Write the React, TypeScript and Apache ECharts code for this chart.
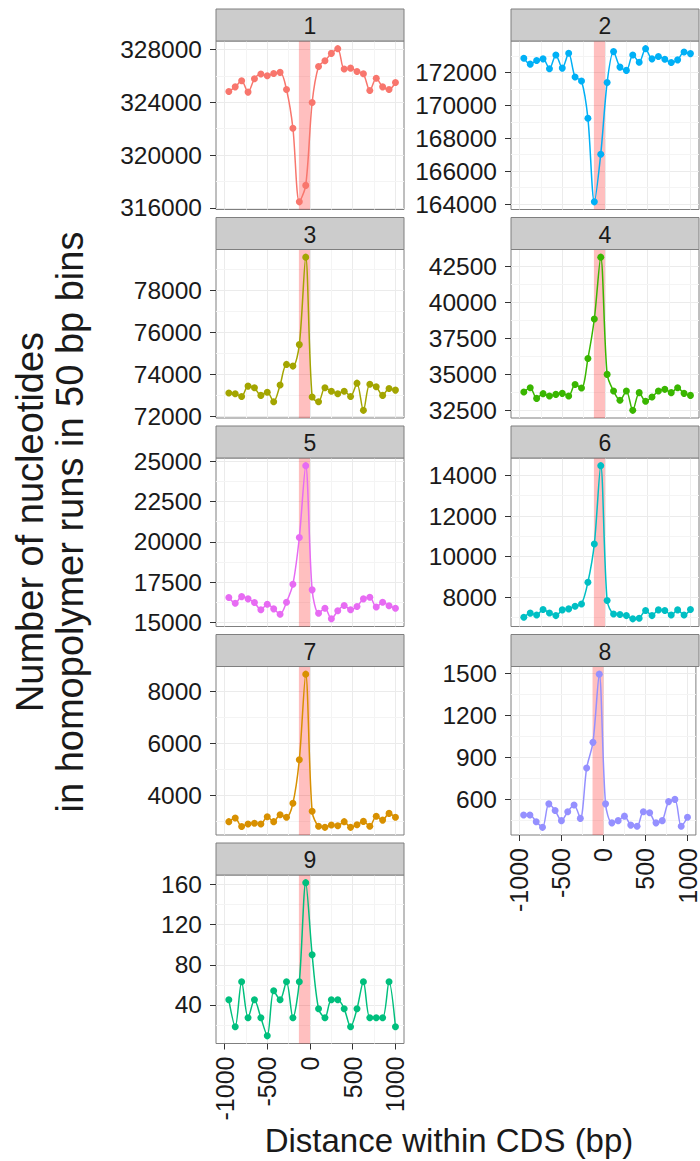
import { useEffect, useRef } from "react";
import * as echarts from "echarts";

// Bin positions (bp) relative to the CDS boundary
const POSITIONS = [
  -950, -875, -800, -725, -650, -575, -500, -425, -350, -275, -200, -125, -50,
  25, 100, 175, 250, 325, 400, 475, 550, 625, 700, 775, 850, 925, 1000,
];

const PANEL_NAMES = ["1", "2", "3", "4", "5", "6", "7", "8", "9"];

const RUN_1 = [
  324830, 325180, 325640, 324780, 325790, 326150, 326020, 326200, 326280, 324980,
  322040, 316450, 317700, 323990, 326730, 327160, 327720, 328080, 326530, 326600,
  326350, 326170, 324900, 325840, 325180, 324980, 325510,
];
const RUN_2 = [
  172860, 172500, 172720, 172820, 172220, 173060, 172260, 173160, 171720, 171480,
  169210, 164140, 167030, 171380, 173260, 172320, 172120, 173060, 172620, 173440,
  172820, 172960, 172800, 172600, 172760, 173240, 173140,
];
const RUN_3 = [
  73120, 73090, 72960, 73450, 73370, 73010, 73160, 72710, 73500, 74480, 74400,
  75420, 79570, 72930, 72710, 73370, 73210, 73090, 73210, 72960, 73590, 72300,
  73540, 73420, 73010, 73340, 73260,
];
const RUN_4 = [
  33770, 34070, 33330, 33660, 33500, 33610, 33680, 33500, 34300, 34050, 36100,
  38850, 43150, 35000, 33840, 33200, 33840, 32500, 33730, 33130, 33430, 33840,
  33960, 33730, 34070, 33680, 33540,
];
const RUN_5 = [
  16540, 16190, 16600, 16460, 16230, 15780, 16130, 15840, 15510, 16250, 17370,
  20270, 24730, 17020, 15570, 15880, 15220, 15720, 16050, 15780, 15990, 16460,
  16560, 15950, 16250, 16030, 15880,
];
const RUN_6 = [
  7020, 7220, 7130, 7400, 7230, 7100, 7380, 7430, 7560, 7670, 8740, 10620, 14480,
  7840, 7180, 7150, 7100, 6940, 6970, 7350, 7100, 7380, 7350, 7130, 7380, 7130,
  7400,
];
const RUN_7 = [
  2970, 3110, 2780, 2880, 2910, 2880, 3160, 2970, 3240, 3140, 3680, 5370, 8680,
  3370, 2790, 2750, 2840, 2810, 2970, 2750, 2850, 2980, 2790, 3180, 3030, 3290,
  3140,
];
const RUN_8 = [
  488, 488, 440, 400, 568, 520, 448, 512, 560, 464, 824, 1008, 1496, 568, 432,
  448, 480, 416, 408, 512, 504, 432, 448, 584, 600, 408, 472,
];
const RUN_9 = [
  45, 18, 63, 27, 45, 27, 9, 54, 45, 63, 27, 63, 162, 90, 36, 27, 45, 45, 36, 18,
  36, 63, 27, 27, 27, 63, 18,
];

const Y_TICKS_1 = [316000, 320000, 324000, 328000];
const Y_TICKS_2 = [164000, 166000, 168000, 170000, 172000];
const Y_TICKS_3 = [72000, 74000, 76000, 78000];
const Y_TICKS_4 = [32500, 35000, 37500, 40000, 42500];
const Y_TICKS_5 = [15000, 17500, 20000, 22500, 25000];
const Y_TICKS_6 = [8000, 10000, 12000, 14000];
const Y_TICKS_7 = [4000, 6000, 8000];
const Y_TICKS_8 = [600, 900, 1200, 1500];
const Y_TICKS_9 = [40, 80, 120, 160];

const X_TICKS = [-1000, -500, 0, 500, 1000];
const X_LIMITS = [-1100, 1100];
const HIGHLIGHT = [-130, 0];

const COLORS = [
  "#F8766D", "#00B0F6", "#A3A500", "#39B600", "#E76BF3",
  "#00BFC4", "#D89000", "#9590FF", "#00BF7D",
];

const RUNS = [RUN_1, RUN_2, RUN_3, RUN_4, RUN_5, RUN_6, RUN_7, RUN_8, RUN_9];
const Y_TICKS = [
  Y_TICKS_1, Y_TICKS_2, Y_TICKS_3, Y_TICKS_4, Y_TICKS_5,
  Y_TICKS_6, Y_TICKS_7, Y_TICKS_8, Y_TICKS_9,
];

// facet layout (pixels)
const COL_LEFT = [216, 511];
const PANEL_W = 188;
const ROW_TOP = [9, 217.5, 426, 634.5, 843];
const STRIP_H = 32;
const PLOT_H = 168.5;

const FONT = '"Liberation Sans", Arial, Helvetica, sans-serif';
const INK = "#1a1a1a";

function minorBreaks(ticks: number[], lo: number, hi: number) {
  const step = ticks[1] - ticks[0];
  const out = [ticks[0] - step / 2, ...ticks.map((t) => t + step / 2)];
  return out.filter((v) => v > lo && v < hi);
}

function buildOption() {
  const grid: any[] = [];
  const xAxis: any[] = [];
  const yAxis: any[] = [];
  const series: any[] = [];
  const graphic: any[] = [];

  RUNS.forEach((vals, k) => {
    const col = k % 2;
    const row = Math.floor(k / 2);
    const left = COL_LEFT[col];
    const stripTop = ROW_TOP[row];
    const top = stripTop + STRIP_H;
    const showX = k === 7 || k === 8;

    const lo = Math.min(...vals);
    const hi = Math.max(...vals);
    const pad = (hi - lo) * 0.05;
    const yMin = lo - pad;
    const yMax = hi + pad;
    const ticks = Y_TICKS[k];

    grid.push({
      left,
      top,
      width: PANEL_W,
      height: PLOT_H,
      show: true,
      backgroundColor: "#ffffff",
      borderColor: "#7f7f7f",
      borderWidth: 1,
      containLabel: false,
    });

    xAxis.push({
      type: "value",
      gridIndex: k,
      min: X_LIMITS[0],
      max: X_LIMITS[1],
      axisLine: { show: false, onZero: false },
      axisTick: {
        show: showX,
        length: 6,
        customValues: X_TICKS,
        lineStyle: { color: "#333333", width: 1 },
      },
      axisLabel: {
        show: showX,
        customValues: X_TICKS,
        rotate: 90,
        margin: 13,
        fontSize: 25,
        fontFamily: FONT,
        color: INK,
        formatter: (v: number) => String(v),
      },
      splitLine: { show: true, lineStyle: { color: "#EBEBEB", width: 1 } },
    });

    yAxis.push({
      type: "value",
      gridIndex: k,
      min: yMin,
      max: yMax,
      axisLine: { show: false, onZero: false },
      axisTick: {
        show: true,
        length: 6,
        customValues: ticks,
        lineStyle: { color: "#333333", width: 1 },
      },
      axisLabel: {
        show: true,
        customValues: ticks,
        margin: 14,
        fontSize: 24.5,
        fontFamily: FONT,
        color: INK,
        formatter: (v: number) => String(v),
      },
      splitLine: { show: true, lineStyle: { color: "#EBEBEB", width: 1 } },
    });

    const points = POSITIONS.map((x, i) => [x, vals[i]]);

    // background layer: minor grid and the highlighted window
    series.push({
      type: "line",
      xAxisIndex: k,
      yAxisIndex: k,
      data: points,
      symbol: "none",
      silent: true,
      z: 1,
      lineStyle: { opacity: 0 },
      markLine: {
        silent: true,
        z: 1,
        symbol: "none",
        label: { show: false },
        lineStyle: { color: "#F4F4F4", width: 1, type: "solid" },
        data: [
          ...minorBreaks(ticks, yMin, yMax).map((v) => ({ yAxis: v })),
          ...minorBreaks(X_TICKS, X_LIMITS[0], X_LIMITS[1]).map((v) => ({ xAxis: v })),
        ],
      },
      markArea: {
        silent: true,
        z: 2,
        itemStyle: { color: "rgba(255,0,0,0.25)" },
        data: [[{ xAxis: HIGHLIGHT[0] }, { xAxis: HIGHLIGHT[1] }]],
      },
    });

    series.push({
      type: "line",
      name: PANEL_NAMES[k],
      xAxisIndex: k,
      yAxisIndex: k,
      data: points,
      smooth: 0.3,
      symbol: "circle",
      symbolSize: 7,
      z: 3,
      lineStyle: { color: COLORS[k], width: 1.5 },
      itemStyle: { color: COLORS[k] },
    });

    // facet strip
    graphic.push({
      type: "rect",
      shape: { x: left, y: stripTop, width: PANEL_W, height: STRIP_H },
      style: { fill: "#CCCCCC", stroke: "#7f7f7f", lineWidth: 1 },
      z: 10,
    });
    graphic.push({
      type: "text",
      x: left + PANEL_W / 2,
      y: stripTop + STRIP_H / 2 + 1,
      style: {
        text: PANEL_NAMES[k],
        font: `23px ${FONT}`,
        fill: INK,
        align: "center",
        verticalAlign: "middle",
      },
      z: 11,
    });
  });

  graphic.push({
    type: "text",
    x: 50,
    y: 522,
    rotation: Math.PI / 2,
    style: {
      text: "Number of nucleotides\nin homopolymer runs in 50 bp bins",
      font: `38px ${FONT}`,
      lineHeight: 40,
      fill: INK,
      align: "center",
      verticalAlign: "middle",
    },
    z: 11,
  });

  graphic.push({
    type: "text",
    x: 449,
    y: 1140,
    style: {
      text: "Distance within CDS (bp)",
      font: `33px ${FONT}`,
      fill: INK,
      align: "center",
      verticalAlign: "middle",
    },
    z: 11,
  });

  return {
    animation: false,
    backgroundColor: "#ffffff",
    grid,
    xAxis,
    yAxis,
    series,
    graphic,
  };
}

export default function App() {
  const ref = useRef<HTMLDivElement>(null);

  useEffect(() => {
    if (!ref.current) return;
    const chart = echarts.init(ref.current, undefined, { renderer: "svg" });
    chart.setOption(buildOption());
    return () => chart.dispose();
  }, []);

  return (
    <div
      ref={ref}
      style={{ position: "absolute", left: 0, top: 0, width: 700, height: 1161, background: "#fff" }}
    />
  );
}
